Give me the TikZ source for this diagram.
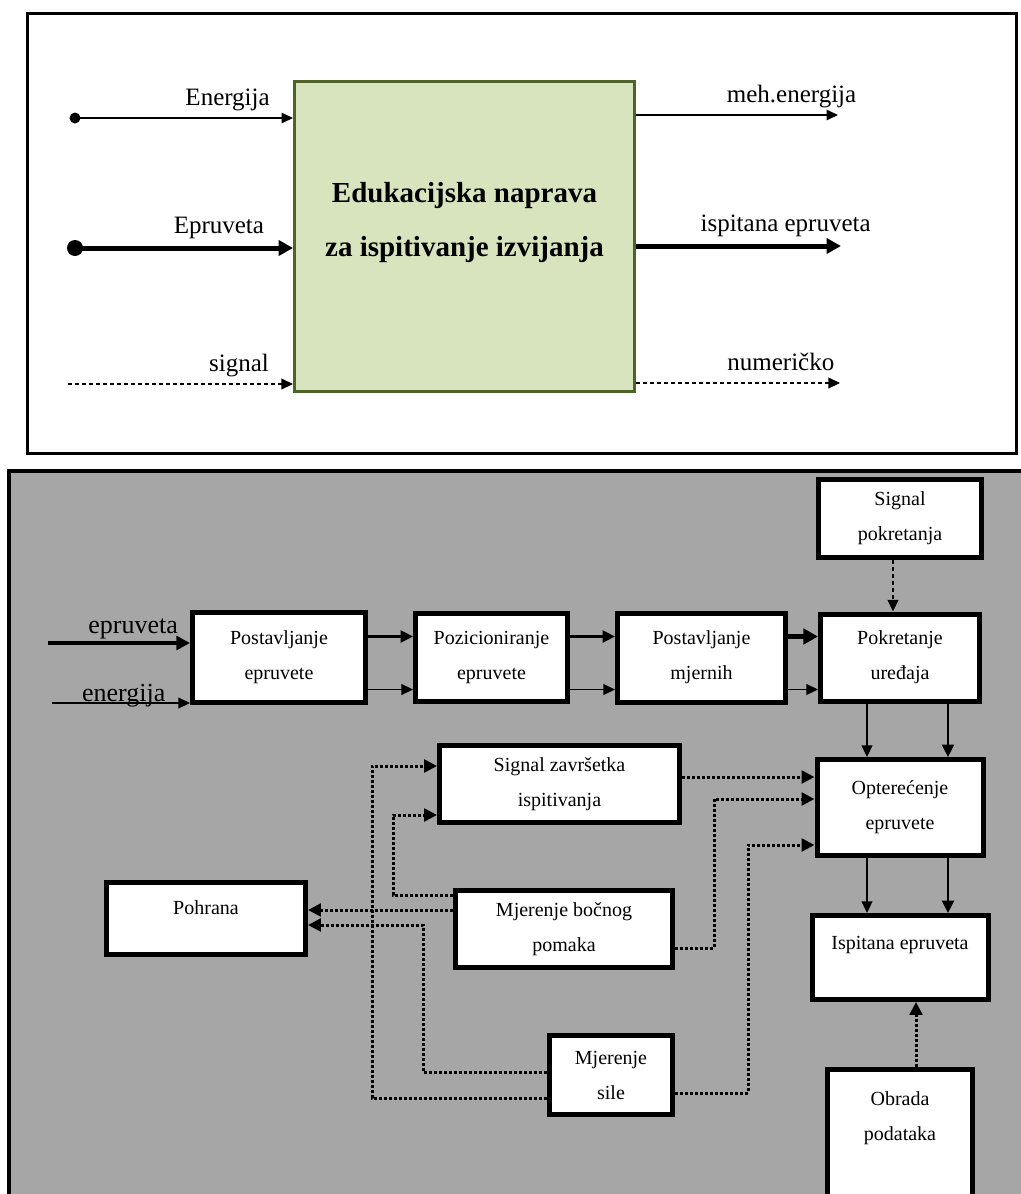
\documentclass[tikz,border=0pt]{standalone}
\usepackage{fontspec}
\setmainfont{Liberation Serif}
\usetikzlibrary{arrows.meta,positioning}

\definecolor{olivefill}{RGB}{215,228,189}
\definecolor{olivedraw}{RGB}{79,98,40}
\definecolor{panelgray}{RGB}{166,166,166}

\begin{document}
\begin{tikzpicture}[x=0.5pt,y=-0.5pt,
        >={Triangle[length=5.2pt 0.8,width=4.5pt 1.2]},
        box/.style={draw,line width=2.5pt,fill=white,align=center,inner sep=2pt,
            font=\fontsize{10pt}{17.5pt}\selectfont},
        device/.style={draw=olivedraw,line width=1.5pt,fill=olivefill,
            minimum width=170pt,minimum height=155pt},
        devtext/.style={align=center,font=\bfseries\fontsize{14.5pt}{27pt}\selectfont},
        lab/.style={font=\fontsize{12.5pt}{15pt}\selectfont,text height=8.5pt,text depth=2.7pt},
        inlab/.style={font=\fontsize{13pt}{15pt}\selectfont,anchor=base},
        endpoint/.style={circle,fill=black,inner sep=0pt},
        flow/.style={->,line width=0.7pt},
        midflow/.style={->,line width=1.2pt},
        heavyflow/.style={->,line width=2.5pt},
        dashflow/.style={->,line width=0.7pt,dash pattern=on 2.2pt off 1.3pt},
        dotflow/.style={->,line width=1.5pt,dash pattern=on 1.4pt off 1.1pt},
        node distance=22.5pt]

    \useasboundingbox (0,0) rectangle (1021,1194);
    \clip (0,0) rectangle (1021,1194);
    \fill[white] (0,0) rectangle (1021,1194);

    \draw[line width=1.5pt] (27.5,13.5) rectangle (1016.5,453.5);

    \node[device] (naprava) at (464.5,236.5) {};
    \node[devtext] (napravatxt) at (464.5,223) {Edukacijska naprava\\za ispitivanje izvijanja};

    \node[endpoint,minimum size=5.5pt] (energin) at (75,118) {};
    \node[endpoint,minimum size=8pt] (eprin) at (75,248) {};
    \coordinate (sigin) at (68,384);
    \coordinate (energout) at (838,115);
    \coordinate (eprout) at (841,246);
    \coordinate (sigout) at (840,383);

    \draw[flow,line width=0.6pt] (energin.center) -- node[lab,above,pos=0.7] {Energija} (energin -| naprava.west);
    \draw[heavyflow] (eprin.center) -- node[lab,above,pos=0.66] {Epruveta} (eprin -| naprava.west);
    \draw[dashflow] (sigin) -- node[lab,above,pos=0.76] {signal} (sigin -| naprava.west);

    \draw[flow,line width=0.6pt] (energout -| naprava.east) -- node[lab,above,pos=0.77] {meh.energija} (energout);
    \draw[heavyflow] (eprout -| naprava.east) -- node[lab,above,pos=0.73] {ispitana epruveta} (eprout);
    \draw[dashflow] (sigout -| naprava.east) -- node[lab,above,pos=0.71] {numeričko} (sigout);

    \draw[line width=2pt,fill=panelgray] (9,471) rectangle (1040,1220);

    \node[box,minimum width=86.5pt,minimum height=45pt] (postav) at (279,657.5) {Postavljanje\\epruvete};
    \node[box,minimum width=76pt,minimum height=44pt,right=of postav] (pozic) {Pozicioniranje\\epruvete};
    \node[box,minimum width=84pt,minimum height=44.5pt,right=of pozic] (mjern) {Postavljanje\\mjernih};
    \node[box,minimum width=79.5pt,minimum height=43.5pt,right=15pt of mjern] (pokret) {Pokretanje\\uređaja};
    \node[box,minimum width=81.5pt,minimum height=39pt,above=26pt of pokret] (sigpok) {Signal\\pokretanja};
    \node[box,minimum width=83pt,minimum height=48pt,below=26.75pt of pokret] (opter) {Opterećenje\\epruvete};
    \node[box,minimum width=88pt,minimum height=42pt,text height=6.8pt,text depth=15.3pt,below=27.5pt of opter] (ispit) {Ispitana epruveta};
    \node[box,minimum width=72.5pt,minimum height=69pt,below=32.5pt of ispit] (obrada) {Obrada\\podataka\\\strut};

    \node[box,minimum width=120pt,minimum height=38.5pt] (sigzav) at (559.5,784) {Signal završetka\\ispitivanja};
    \node[box,minimum width=108.5pt,minimum height=38.5pt] (bocni) at (564,929) {Mjerenje bočnog\\pomaka};
    \node[box,minimum width=61.5pt,minimum height=39.5pt] (sila) at (611,1075) {Mjerenje\\sile};
    \node[box,minimum width=99.5pt,minimum height=36pt,text height=6.8pt,text depth=11.3pt] (pohrana) at (206,918.5) {Pohrana};

    \coordinate (eprbottom) at (48,643);
    \coordinate (enbottom) at (52,703);
    \draw[heavyflow,line width=2pt] (eprbottom) -- node[inlab,pos=0.6,yshift=5pt] {epruveta} (eprbottom -| postav.west);
    \draw[flow] (enbottom) -- node[inlab,pos=0.52,yshift=1pt] {energija} (enbottom -| postav.west);

    \foreach \from/\to/\w in {postav/pozic/1.2pt, pozic/mjern/1.2pt, mjern/pokret/2.6pt}
    {
        \draw[->,line width=\w] ([yshift=10.5pt]\from.east) -- ([yshift=10.5pt]\to.west);
        \draw[flow] ([yshift=-16pt]\from.east) -- ([yshift=-16pt]\to.west);
    }

    \draw[dashflow] ([xshift=-3.5pt]sigpok.south) -- ([xshift=-3.5pt]pokret.north);

    \foreach \from/\to in {pokret/opter, opter/ispit}
    {
        \draw[flow] ([xshift=-16.5pt]\from.south) -- ([xshift=-16.5pt]\to.north);
        \draw[midflow] ([xshift=24pt]\from.south) -- ([xshift=24pt]\to.north);
    }

    \draw[dotflow] ([xshift=8pt]obrada.north) -- ([xshift=8pt]ispit.south);

    \draw[dotflow] (sigzav.east |- 0,777) -- (opter.west |- 0,777);
    \draw[dotflow] (bocni.east |- 0,948) -| (714,799) -- (opter.west |- 0,799);
    \draw[dotflow] (sila.east |- 0,1093) -| (748,845) -- (opter.west |- 0,845);

    \draw[dotflow] (bocni.west |- 0,895) -| (393,815) -- (sigzav.west |- 0,815);
    \draw[dotflow] (sila.west |- 0,1098) -| (372,766) -- (sigzav.west |- 0,766);
    \draw[dotflow] (bocni.west |- 0,910) -- (pohrana.east |- 0,910);
    \draw[dotflow] (sila.west |- 0,1072) -| (423,925) -- (pohrana.east |- 0,925);

\end{tikzpicture}
\end{document}
